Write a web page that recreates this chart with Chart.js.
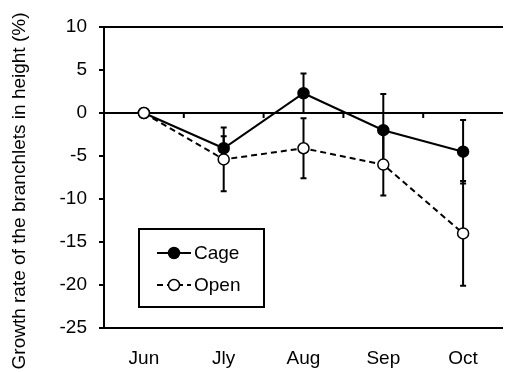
<!DOCTYPE html>
<html>
<head>
<meta charset="utf-8">
<script src="https://cdn.jsdelivr.net/npm/chart.js@4.4.1/dist/chart.umd.min.js"></script>
<style>
  html, body { margin: 0; padding: 0; background: #fff; overflow: hidden; }
  #wrap { position: relative; width: 510px; height: 372px; }
</style>
</head>
<body>
<div id="wrap"><canvas id="growthChart"></canvas></div>
<script>
const months = ['Jun', 'Jly', 'Aug', 'Sep', 'Oct'];
const cageValues = [0, -4.1, 2.3, -2.0, -4.5];
const cageErrors = [0, 1.4, 2.3, 4.2, 3.7];
const openValues = [0, -5.4, -4.1, -6.0, -14.0];
const openErrors = [0, 3.7, 3.5, 3.6, 6.1];
const yMin = -25, yMax = 10, yStep = 5;
const yTitle = 'Growth rate of the branchlets in height (%)';

const FONT = 'Liberation Sans, Arial, sans-serif';

// error bars, drawn behind the markers
const errorBars = {
    id: 'errorBars',
    beforeDatasetsDraw(chart) {
        const ctx = chart.ctx;
        const y = chart.scales.y;
        chart.data.datasets.forEach((ds, i) => {
            const meta = chart.getDatasetMeta(i);
            meta.data.forEach((pt, j) => {
                const err = ds.errors[j];
                if (!err) return;
                const v = ds.data[j];
                const top = y.getPixelForValue(v + err);
                const bot = y.getPixelForValue(v - err);
                ctx.save();
                ctx.strokeStyle = '#000';
                ctx.lineWidth = 2;
                ctx.beginPath();
                ctx.moveTo(pt.x, top); ctx.lineTo(pt.x, bot);
                ctx.moveTo(pt.x - 3, top); ctx.lineTo(pt.x + 3, top);
                ctx.moveTo(pt.x - 3, bot); ctx.lineTo(pt.x + 3, bot);
                ctx.stroke();
                ctx.restore();
            });
        });
    }
};

// category tick marks hanging under the zero line
const zeroTicks = {
    id: 'zeroTicks',
    beforeDatasetsDraw(chart) {
        const ctx = chart.ctx;
        const x = chart.scales.x;
        const y0 = chart.scales.y.getPixelForValue(0);
        ctx.save();
        ctx.strokeStyle = '#000';
        ctx.lineWidth = 2;
        ctx.beginPath();
        for (let i = 0; i < months.length - 1; i++) {
            const bx = (x.getPixelForValue(i) + x.getPixelForValue(i + 1)) / 2;
            ctx.moveTo(bx, y0);
            ctx.lineTo(bx, y0 + 5);
        }
        ctx.stroke();
        ctx.restore();
    }
};

// y title centred on the whole canvas height, not just the plot
const sideTitle = {
    id: 'sideTitle',
    afterDraw(chart) {
        const ctx = chart.ctx;
        ctx.save();
        ctx.translate(25, chart.height / 2 + 5);
        ctx.rotate(-Math.PI / 2);
        ctx.fillStyle = '#000';
        ctx.font = '19px ' + FONT;
        ctx.textAlign = 'center';
        ctx.textBaseline = 'alphabetic';
        ctx.fillText(yTitle, 0, 0);
        ctx.restore();
    }
};

// boxed legend inside the plot
const boxLegend = {
    id: 'boxLegend',
    afterDraw(chart) {
        const ctx = chart.ctx;
        const ca = chart.chartArea;
        const left = ca.left + 35, top = ca.top + 202, w = 125, h = 78;
        ctx.save();
        ctx.fillStyle = '#fff';
        ctx.fillRect(left, top, w, h);
        ctx.strokeStyle = '#000';
        ctx.lineWidth = 2;
        ctx.strokeRect(left, top, w, h);
        chart.data.datasets.forEach((ds, i) => {
            const yy = top + 24 + i * 32;
            ctx.beginPath();
            ctx.setLineDash(ds.borderDash || []);
            ctx.lineWidth = 2;
            ctx.moveTo(left + 18, yy);
            ctx.lineTo(left + 52, yy);
            ctx.stroke();
            ctx.setLineDash([]);
            ctx.beginPath();
            ctx.arc(left + 35, yy, 5.5, 0, Math.PI * 2);
            ctx.fillStyle = ds.pointBackgroundColor;
            ctx.fill();
            ctx.lineWidth = 1.5;
            ctx.stroke();
            ctx.fillStyle = '#000';
            ctx.font = '19px ' + FONT;
            ctx.textBaseline = 'middle';
            ctx.fillText(ds.label, left + 55, yy + 1);
        });
        ctx.restore();
    }
};

const edgeLine = (ctx) => {
    const v = ctx.tick ? ctx.tick.value : null;
    return (v === yMax || v === 0 || v === yMin) ? '#000' : 'rgba(0,0,0,0)';
};

new Chart(document.getElementById('growthChart'), {
    type: 'line',
    data: {
        labels: months,
        datasets: [{
            label: 'Cage',
            data: cageValues,
            errors: cageErrors,
            borderColor: '#000',
            borderWidth: 2,
            pointRadius: 5.5,
            pointBorderWidth: 1.5,
            pointBackgroundColor: '#000',
            pointBorderColor: '#000',
            order: 2
        }, {
            label: 'Open',
            data: openValues,
            errors: openErrors,
            borderColor: '#000',
            borderWidth: 2,
            borderDash: [6, 4],
            pointRadius: 5.5,
            pointBorderWidth: 1.5,
            pointBackgroundColor: '#fff',
            pointBorderColor: '#000',
            order: 1
        }]
    },
    options: {
        responsive: true,
        maintainAspectRatio: false,
        animation: false,
        devicePixelRatio: 1,
        layout: { padding: { top: 27, left: 0, right: 0, bottom: 0 } },
        scales: {
            x: {
                offset: true,
                grid: { display: false, drawTicks: false, tickLength: 0 },
                border: { display: false },
                ticks: { color: '#000', font: { family: FONT, size: 19 }, padding: 19 },
                afterFit(scale) { scale.height = 44; }
            },
            y: {
                min: yMin,
                max: yMax,
                ticks: { stepSize: yStep, color: '#000', font: { family: FONT, size: 19 }, padding: 12 },
                grid: { color: edgeLine, lineWidth: 2, tickColor: '#000', tickLength: 5, tickWidth: 2 },
                border: { color: '#000', width: 2 },
                afterFit(scale) { scale.width = 104; }
            }
        },
        plugins: {
            legend: { display: false },
            tooltip: { enabled: false }
        }
    },
    plugins: [errorBars, zeroTicks, sideTitle, boxLegend]
});
</script>
</body>
</html>
